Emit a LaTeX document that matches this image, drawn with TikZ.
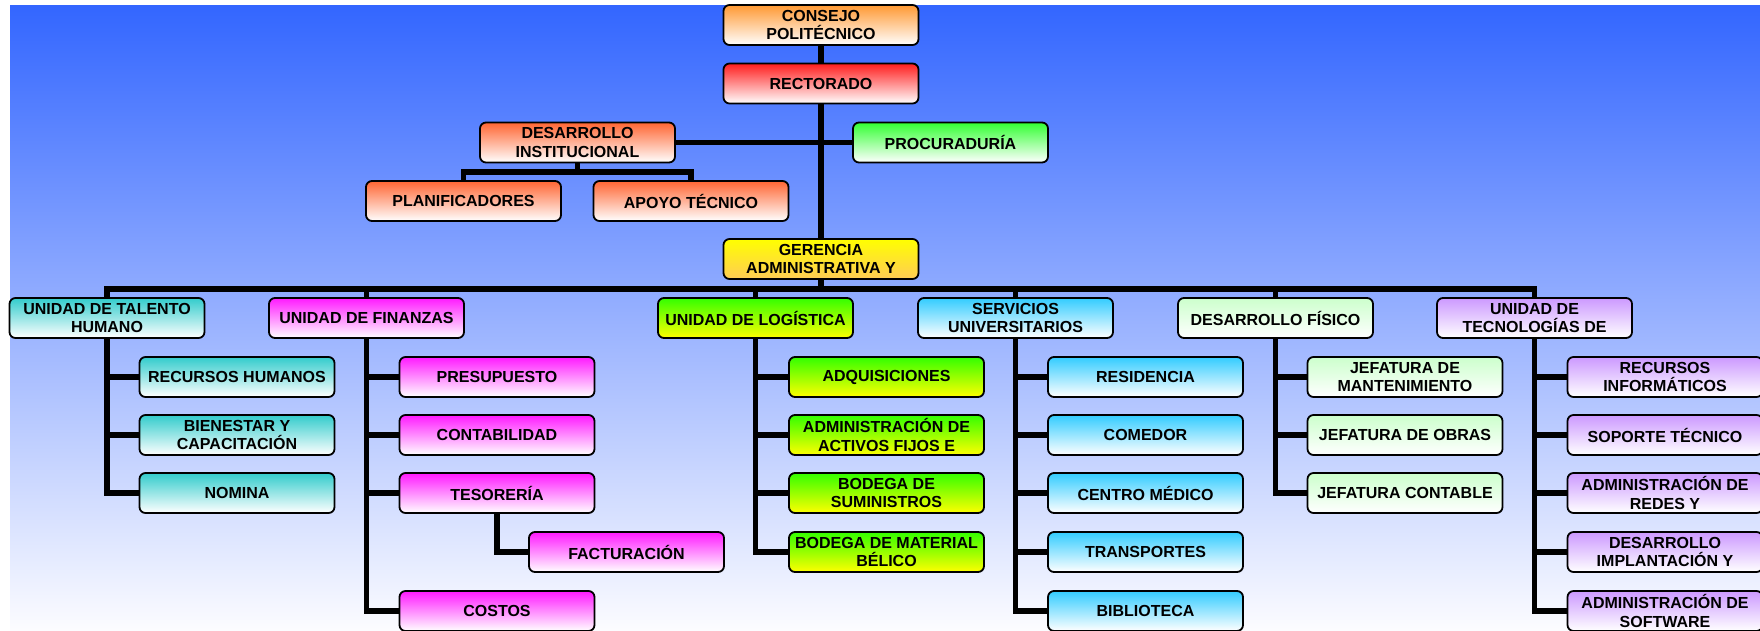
\documentclass[tikz,border=0pt]{standalone}
\usepackage{fontspec}
\setmainfont{Liberation Sans}
\usetikzlibrary{backgrounds}

\definecolor{bgblue}{HTML}{3366FF}
\definecolor{bgmid}{HTML}{B0B8FF}
\definecolor{bgwhite}{HTML}{FCFCFF}
\definecolor{cOrg}{HTML}{FF9933}
\definecolor{cRed}{HTML}{FF1E1E}
\definecolor{cTang}{HTML}{FF6633}
\definecolor{cGrn}{HTML}{33FF33}
\definecolor{cGold}{HTML}{FFCC55}
\definecolor{cTeal}{HTML}{33CCCC}
\definecolor{cMag}{HTML}{FF1AFF}
\definecolor{cLime}{HTML}{33FF00}
\definecolor{cSky}{HTML}{33CCFF}
\definecolor{cMint}{HTML}{CCFFCC}
\definecolor{cLav}{HTML}{CC99FF}

\begin{document}
\begin{tikzpicture}[x=1pt,y=-1pt,
  box/.style={draw,line width=1.8pt,rounded corners=6pt,minimum width=195pt,minimum height=40pt,
    inner sep=0pt,align=center,font=\fontsize{16}{18.5}\selectfont\bfseries,top color=#1,bottom color=white},
  conn/.style={line width=5.5pt}]
  % top of the chart
  \node[box=cOrg] (cons) at (821,25) {CONSEJO\\POLITÉCNICO};
  \node[box=cRed] (rect) at (821,83.5) {RECTORADO};
  \node[box=cTang] (desi) at (577.5,142.5) {DESARROLLO\\INSTITUCIONAL};
  \node[box=cGrn] (proc) at (950.5,142.5) {PROCURADURÍA};
  \node[box=cTang] (plan) at (463.5,201) {PLANIFICADORES};
  \node[box=cTang] (apoy) at (691,201) {APOYO TÉCNICO};
  \node[box=yellow,bottom color=cGold] (gere) at (821,259) {GERENCIA\\ADMINISTRATIVA Y};
  \coordinate (dbus) at (577.5,172); \coordinate (gbus) at (821,289);
  % units
  \node[box=cTeal] (tal) at (107,318) {UNIDAD DE TALENTO\\HUMANO};
  \node[box=cMag] (fin) at (366.5,318) {UNIDAD DE FINANZAS};
  \node[box=cLime,bottom color=yellow] (log) at (755.5,318) {UNIDAD DE LOGÍSTICA};
  \node[box=cSky] (ser) at (1015.5,318) {SERVICIOS\\UNIVERSITARIOS};
  \node[box=cMint] (dfi) at (1275.5,318) {DESARROLLO FÍSICO};
  \node[box=cLav] (tec) at (1534.5,318) {UNIDAD DE\\TECNOLOGÍAS DE};
  % talento humano
  \node[box=cTeal] (rh) at (237,377) {RECURSOS HUMANOS};
  \node[box=cTeal] (bie) at (237,435) {BIENESTAR Y\\CAPACITACIÓN};
  \node[box=cTeal] (nom) at (237,493) {NOMINA};
  % finanzas
  \node[box=cMag] (pre) at (497,377) {PRESUPUESTO};
  \node[box=cMag] (con) at (497,435) {CONTABILIDAD};
  \node[box=cMag] (tes) at (497,493) {TESORERÍA};
  \node[box=cMag] (fac) at (626.5,552) {FACTURACIÓN};
  \node[box=cMag] (cos) at (497,611) {COSTOS};
  % logistica
  \node[box=cLime,bottom color=yellow] (adq) at (886.5,377) {ADQUISICIONES};
  \node[box=cLime,bottom color=yellow] (act) at (886.5,435) {ADMINISTRACIÓN DE\\ACTIVOS FIJOS E};
  \node[box=cLime,bottom color=yellow] (bsu) at (886.5,493) {BODEGA DE\\SUMINISTROS};
  \node[box=cLime,bottom color=yellow] (bma) at (886.5,552) {BODEGA DE MATERIAL\\BÉLICO};
  % servicios
  \node[box=cSky] (res) at (1145.5,377) {RESIDENCIA};
  \node[box=cSky] (com) at (1145.5,435) {COMEDOR};
  \node[box=cSky] (cme) at (1145.5,493) {CENTRO MÉDICO};
  \node[box=cSky] (tra) at (1145.5,552) {TRANSPORTES};
  \node[box=cSky] (bib) at (1145.5,611) {BIBLIOTECA};
  % desarrollo fisico
  \node[box=cMint] (jma) at (1405,377) {JEFATURA DE\\MANTENIMIENTO};
  \node[box=cMint] (job) at (1405,435) {JEFATURA DE OBRAS};
  \node[box=cMint] (jco) at (1405,493) {JEFATURA CONTABLE};
  % tecnologias
  \node[box=cLav] (rin) at (1665,377) {RECURSOS\\INFORMÁTICOS};
  \node[box=cLav] (sop) at (1665,435) {SOPORTE TÉCNICO};
  \node[box=cLav] (red) at (1665,493) {ADMINISTRACIÓN DE\\REDES Y};
  \node[box=cLav] (dim) at (1665,552) {DESARROLLO\\IMPLANTACIÓN Y};
  \node[box=cLav] (sof) at (1665,611) {ADMINISTRACIÓN DE\\SOFTWARE};
  \begin{scope}[on background layer]
    \shade[top color=bgblue,middle color=bgmid,bottom color=bgwhite] (10,5) rectangle (1760,630);
    \draw[conn] (cons) -- (gere);
    \draw[conn] (desi) -- (proc);
    \draw[conn] (desi) -- (dbus); \draw[conn] (plan) |- (dbus) -| (apoy);
    \draw[conn] (gere) -- (gbus); \draw[conn] (tal) |- (gbus) -| (tec);
    \foreach \u in {fin,log,ser,dfi} \draw[conn] (\u) -- (\u |- gbus);
    \foreach \p/\c in {tal/rh,tal/bie,tal/nom,fin/pre,fin/con,fin/tes,fin/cos,tes/fac,
      log/adq,log/act,log/bsu,log/bma,ser/res,ser/com,ser/cme,ser/tra,ser/bib,
      dfi/jma,dfi/job,dfi/jco,tec/rin,tec/sop,tec/red,tec/dim,tec/sof}
      \draw[conn] (\p) |- (\c);
  \end{scope}
  \pgfresetboundingbox
  \useasboundingbox (0,0) rectangle (1760,630);
\end{tikzpicture}
\end{document}
